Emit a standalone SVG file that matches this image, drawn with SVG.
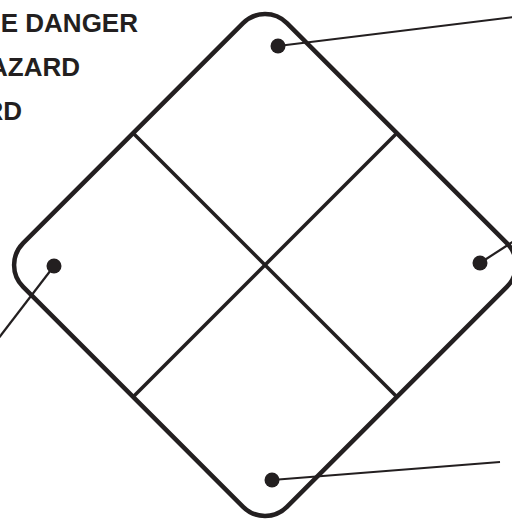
<svg xmlns="http://www.w3.org/2000/svg" width="512" height="522" viewBox="0 0 512 522">
  <style>
    .outline { fill: none; stroke: #231f20; stroke-width: 4.5; }
    .divider { fill: none; stroke: #231f20; stroke-width: 3.5; stroke-linecap: butt; }
    .leader { fill: none; stroke: #231f20; stroke-width: 2.2; }
    .dot { fill: #231f20; }
    .label { font-family: "Liberation Sans", Arial, sans-serif; font-weight: bold; font-size: 26px; fill: #231f20; text-anchor: end; }
  </style>
  <rect width="512" height="522" fill="#ffffff"/>
  <g id="diamond">
    <rect class="outline" x="-186.5" y="-186.5" width="373" height="373" rx="31" transform="translate(265,265) rotate(45)"/>
    <line class="divider" x1="133" y1="133" x2="397" y2="397"/>
    <line class="divider" x1="397" y1="133" x2="133" y2="397"/>
  </g>
  <g id="connectors">
    <line class="leader" x1="278" y1="46" x2="514" y2="17"/>
    <line class="leader" x1="54" y1="266" x2="-2" y2="339"/>
    <line class="leader" x1="480" y1="263" x2="514" y2="241"/>
    <line class="leader" x1="272" y1="480" x2="500" y2="462"/>
  </g>
  <g id="dot-top"><circle class="dot" cx="278" cy="46" r="7.5"/></g>
  <g id="dot-left"><circle class="dot" cx="54" cy="266" r="7.5"/></g>
  <g id="dot-right"><circle class="dot" cx="480" cy="263" r="7.5"/></g>
  <g id="dot-bottom"><circle class="dot" cx="272" cy="480" r="7.5"/></g>
  <g id="labels">
    <text class="label" x="138" y="32">E DANGER</text>
    <text class="label" x="80" y="76">AZARD</text>
    <text class="label" x="22" y="120">RD</text>
  </g>
</svg>
